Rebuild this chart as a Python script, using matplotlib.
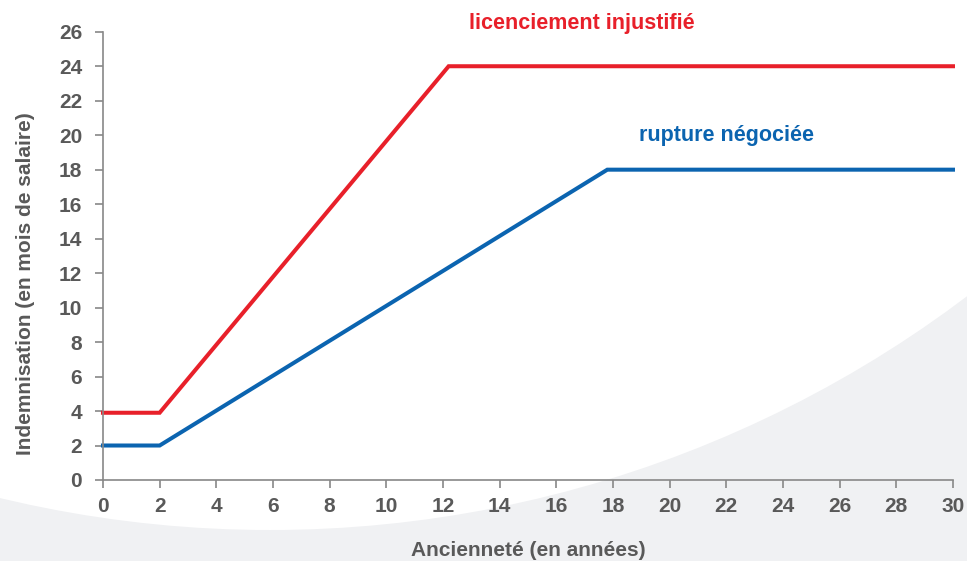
import matplotlib.pyplot as plt
from matplotlib.patches import Ellipse

# seniority (years) vs indemnity (months of salary)
x_licenciement = [0, 2, 12.2, 30]
y_licenciement = [3.9, 3.9, 24, 24]
x_rupture = [0, 2, 17.8, 30]
y_rupture = [2, 2, 18, 18]

x_ticks = list(range(0, 31, 2))
y_ticks = list(range(0, 27, 2))

red = '#e8202a'
blue = '#0b64b0'
grey_txt = '#595959'

plt.rcParams['font.family'] = ['Liberation Sans', 'DejaVu Sans']
plt.rcParams['font.weight'] = 'bold'

fig = plt.figure(figsize=(9.67, 5.61), dpi=100)
fig.patch.set_facecolor('#f0f1f3')

# white bowl shape in the background, on its own axes below the chart
bg = fig.add_axes([0, 0, 1, 1], zorder=0)
bg.set_axis_off()
bg.add_patch(Ellipse((270 / 967, 1187 / 561), 2312 / 967, 2312 / 561,
                     transform=bg.transAxes, facecolor='white',
                     edgecolor='none'))

ax = fig.add_axes([0.1065, 0.1444, 0.879, 0.799], zorder=1)
ax.patch.set_alpha(0)

ax.plot(x_licenciement, y_licenciement, color=red, lw=2.9, clip_on=False,
        solid_joinstyle='miter')
ax.plot(x_rupture, y_rupture, color=blue, lw=2.9, clip_on=False,
        solid_joinstyle='miter')

ax.text(16.9, 26.5, 'licenciement injustifié', color=red, fontsize=15.5,
        fontweight='bold', ha='center', va='center')
ax.text(22.0, 20.0, 'rupture négociée', color=blue, fontsize=15.5,
        fontweight='bold', ha='center', va='center')

ax.set_xlim(0, 30)
ax.set_ylim(0, 26)
ax.set_xticks(x_ticks)
ax.set_yticks(y_ticks)
ax.tick_params(colors='#888888', labelcolor=grey_txt, labelsize=15,
               length=6, width=1.2, direction='out')
ax.tick_params(axis='x', pad=6)
ax.tick_params(axis='y', pad=9)
for s in ['top', 'right']:
    ax.spines[s].set_visible(False)
for s in ['left', 'bottom']:
    ax.spines[s].set_color('#888888')
    ax.spines[s].set_linewidth(1.2)

ax.set_xlabel('Ancienneté (en années)', fontsize=15, fontweight='bold',
              color=grey_txt, labelpad=18)
ax.set_ylabel('Indemnisation (en mois de salaire)', fontsize=15,
              fontweight='bold', color=grey_txt)
ax.yaxis.set_label_coords(-0.08, 0.438)

fig.savefig('out.png', dpi=100, facecolor=fig.get_facecolor())
